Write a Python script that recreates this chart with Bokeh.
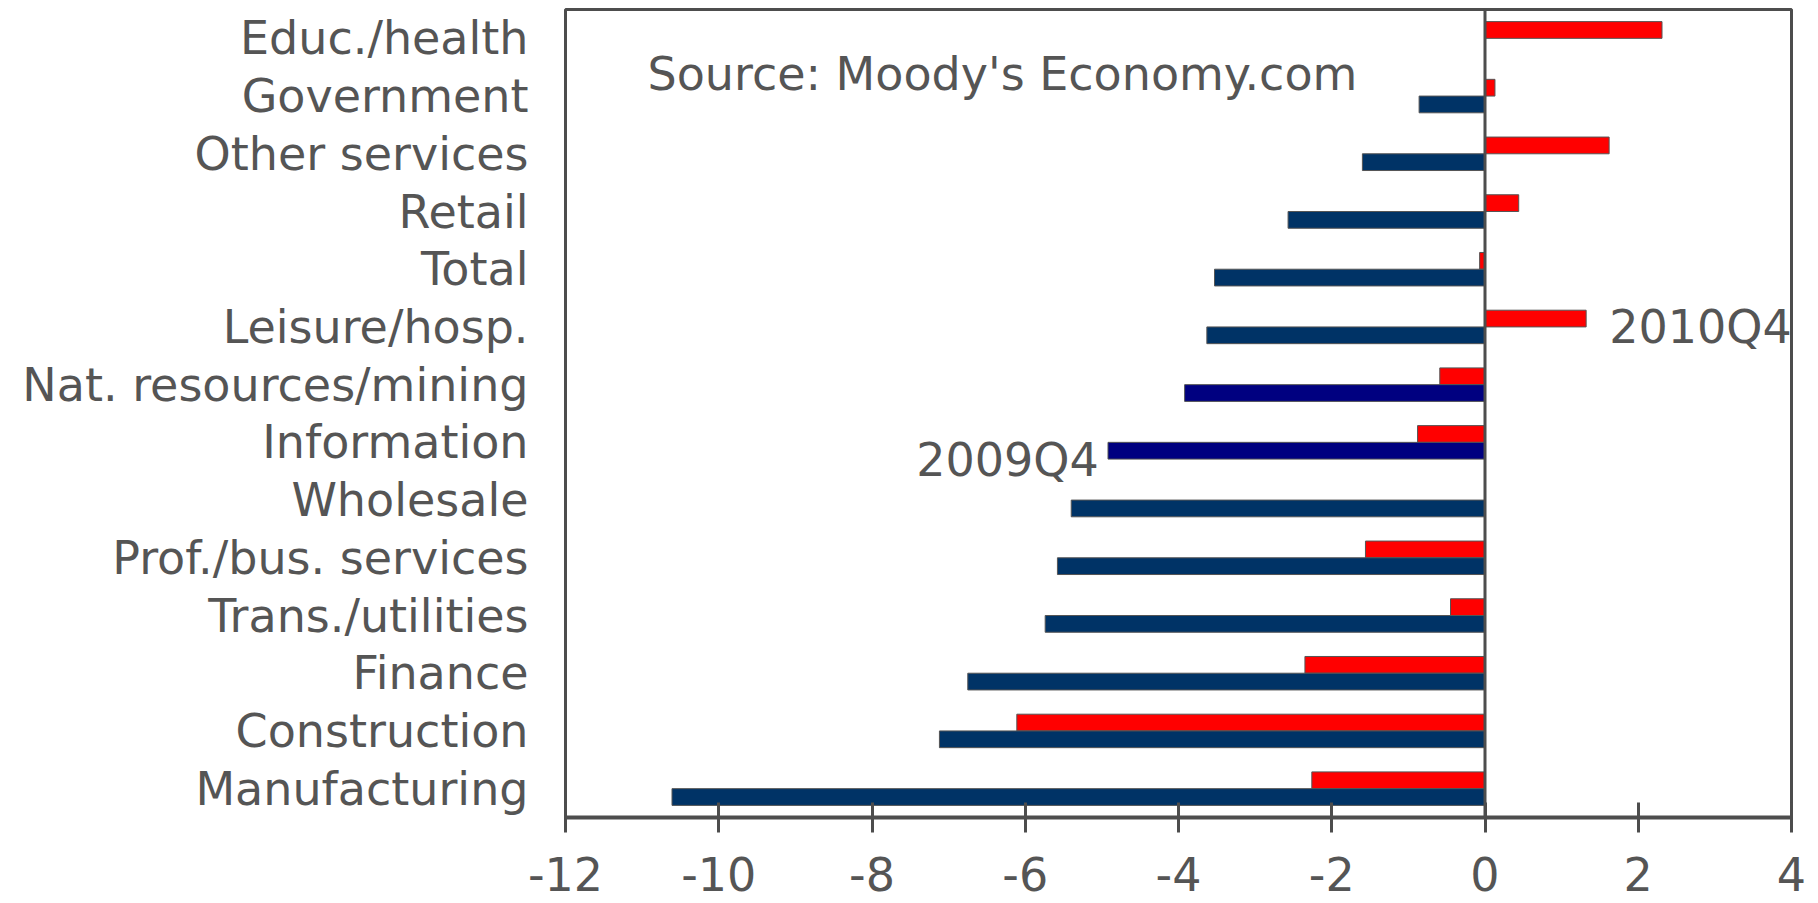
from bokeh.plotting import figure
from bokeh.models import ColumnDataSource, FactorRange, Range1d, FixedTicker, Span
from bokeh.transform import dodge
from bokeh.core.properties import value
from bokeh.embed import file_html
from bokeh.resources import INLINE

# Categories listed from top to bottom as in the chart
categories = ["Educ./health", "Government", "Other services", "Retail", "Total",
              "Leisure/hosp.", "Nat. resources/mining", "Information", "Wholesale",
              "Prof./bus. services", "Trans./utilities", "Finance", "Construction",
              "Manufacturing"]
q4_2009 = [0.0, -0.86, -1.60, -2.57, -3.53, -3.63, -3.92, -4.92, -5.40, -5.58,
           -5.74, -6.75, -7.12, -10.61]
q4_2010 = [2.31, 0.13, 1.62, 0.44, -0.07, 1.32, -0.59, -0.88, 0.0, -1.56,
           -0.45, -2.35, -6.11, -2.26]
x_ticks = [-12, -10, -8, -6, -4, -2, 0, 2, 4]
highlight = ["Nat. resources/mining", "Information"]

FONT = "DejaVu Sans"
FS = "46px"
TXT = "#555555"
LINE = "#4d4d4d"
BLUE = "#003366"
NAVY = "#000080"
RED = "#ff0000"

factors = list(reversed(categories))

p = figure(width=1818, height=903, output_backend="svg", toolbar_location=None,
           y_range=FactorRange(factors=factors, range_padding=0),
           x_range=Range1d(-12, 4),
           min_border_left=565, min_border_right=27, min_border_top=9,
           min_border_bottom=86)

blue_colors = [NAVY if c in highlight else BLUE for c in categories]
src = ColumnDataSource(dict(cat=categories, v09=q4_2009, v10=q4_2010, bc=blue_colors))

p.hbar(y=dodge("cat", 0.145, range=p.y_range), left=0, right="v10", height=0.29,
       source=src, fill_color=RED, line_color="#555555", line_width=1)
p.hbar(y=dodge("cat", -0.145, range=p.y_range), left=0, right="v09", height=0.29,
       source=src, fill_color="bc", line_color="#555555", line_width=1)

p.add_layout(Span(location=0, dimension="height", line_color=LINE, line_width=3))

note_cat = ["Educ./health", "Leisure/hosp.", "Information"]
note_x = [-10.93, 1.62, -5.04]
note_off = [-0.61, 0.0, -0.30]
note_text = ["Source: Moody's Economy.com", "2010Q4", "2009Q4"]
note_align = ["left", "left", "right"]
for c, x, off, t, al in zip(note_cat, note_x, note_off, note_text, note_align):
    s = ColumnDataSource(dict(cat=[c], x=[x], t=[t]))
    p.text(x="x", y=dodge("cat", off, range=p.y_range), text="t",
           source=s, text_font=value(FONT), text_font_size=FS,
           text_color=TXT, text_align=al, text_baseline="middle")

p.xgrid.visible = False
p.ygrid.visible = False
p.outline_line_color = LINE
p.outline_line_width = 3
p.background_fill_color = "white"
p.border_fill_color = "white"

xa = p.xaxis[0]
xa.ticker = FixedTicker(ticks=x_ticks)
xa.major_label_overrides = {t: str(t) for t in x_ticks}
xa.axis_line_color = LINE
xa.axis_line_width = 4
xa.major_tick_line_color = LINE
xa.major_tick_line_width = 3
xa.major_tick_in = 15
xa.major_tick_out = 15
xa.minor_tick_line_color = None
xa.major_label_standoff = 24
xa.major_label_text_line_height = 0.7
xa.major_label_text_font = FONT
xa.major_label_text_font_size = FS
xa.major_label_text_color = TXT

ya = p.yaxis[0]
ya.axis_line_color = None
ya.major_tick_line_color = None
ya.minor_tick_line_color = None
ya.major_label_standoff = 31
ya.major_label_text_font = FONT
ya.major_label_text_font_size = FS
ya.major_label_text_color = TXT

open("out.html", "w").write(file_html(p, INLINE))
